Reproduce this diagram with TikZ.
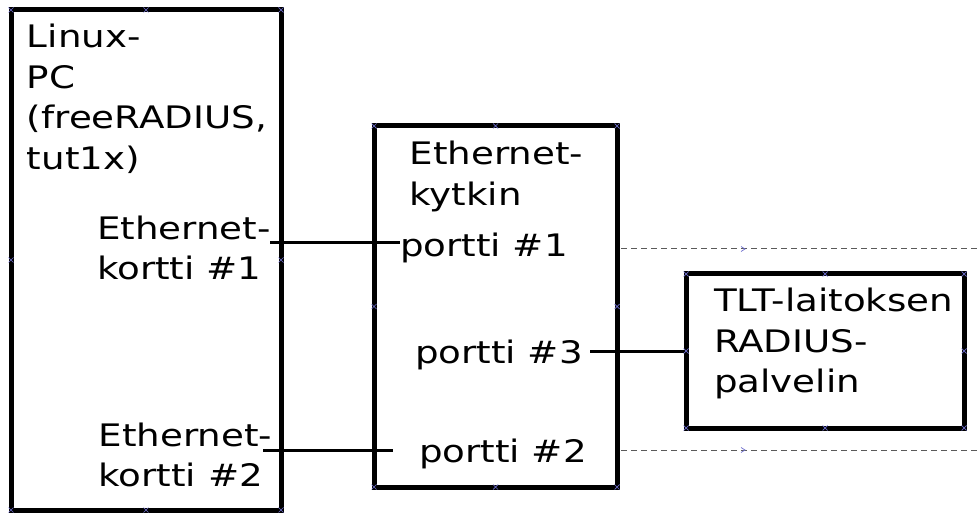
\documentclass[tikz,border=0pt]{standalone}
\usepackage{fontspec}
\setmainfont{DejaVu Sans}[FakeStretch=1.2]
\definecolor{handleblue}{RGB}{110,110,205}
\definecolor{trunkgray}{RGB}{90,90,90}
\newcommand\labelfont{\fontsize{31}{40.5}\selectfont}
\newcommand\stacked[1]{\begin{tabular}[t]{@{}l@{}}#1\end{tabular}}
\begin{document}
\begin{tikzpicture}[x=1pt,y=-1pt,
  box/.style={draw=black, line width=5pt, inner sep=0pt, outer sep=0pt},
  link/.style={draw=black, line width=3pt},
  trunk/.style={draw=trunkgray, line width=1pt, dash pattern=on 6pt off 4pt},
  label/.style={anchor=base west, inner sep=0pt, outer sep=0pt, font=\labelfont},
  handle/.style={draw=handleblue, line width=0.7pt}]
\useasboundingbox (0,0) rectangle (978,513);

% boxes
\node[box, minimum width=270, minimum height=500] (pc) at (146,260) {};
\node[box, minimum width=243, minimum height=361] (switch) at (495.5,306.5) {};
\node[box, minimum width=278, minimum height=154] (srv) at (825,351) {};

% texts
\node[label] (pctext) at (27,48) {\stacked{Linux-\\PC\\(freeRADIUS,\\tut1x)}};
\node[label] (nic1) at (97,239.5) {\stacked{Ethernet-\\kortti \#1}};
\node[label] (nic2) at (98.5,446) {\stacked{Ethernet-\\kortti \#2}};
\node[label] (swtext) at (409.5,165) {\stacked{Ethernet-\\kytkin}};
\node[label] (port1) at (400,256.5) {portti \#1};
\node[label] (port3) at (415,363) {portti \#3};
\node[label] (port2) at (419,462.5) {portti \#2};
\node[label] (srvtext) at (714,312) {\stacked{TLT-laitoksen\\RADIUS-\\palvelin}};

% connector end points
\coordinate (n1) at (270,243);
\coordinate (p1) at (400,243);
\coordinate (n2) at (263,450);
\coordinate (p2) at (393,450);
\coordinate (p3) at (590,351);
\coordinate (up1) at (621,249);
\coordinate (up1end) at (978,249);
\coordinate (up2) at (621,450);
\coordinate (up2end) at (978,450);

% cabling
\draw[link] (n1) -- (p1);
\draw[link] (n2) -- (p2);
\draw[link] (p3) -- (srv.west);
\draw[trunk] (up1) -- (up1end);
\draw[trunk] (up2) -- (up2end);

% connection handles
\foreach \x/\y in {11/10,146/10,281/10,11/260,281/260,11/510,146/510,281/510,
                   374/126,495.5/126,617/126,374/306.5,617/306.5,374/487,495.5/487,617/487,
                   686/274,825/274,964/274,686/351,964/351,686/428,825/428,964/428}
  \draw[handle] (\x-2.5,\y-2.5) -- (\x+2.5,\y+2.5) (\x-2.5,\y+2.5) -- (\x+2.5,\y-2.5);
\foreach \y in {249,450}
  \draw[handle] (741,\y-2.5) -- (745,\y) -- (741,\y+2.5);
\end{tikzpicture}
\end{document}
